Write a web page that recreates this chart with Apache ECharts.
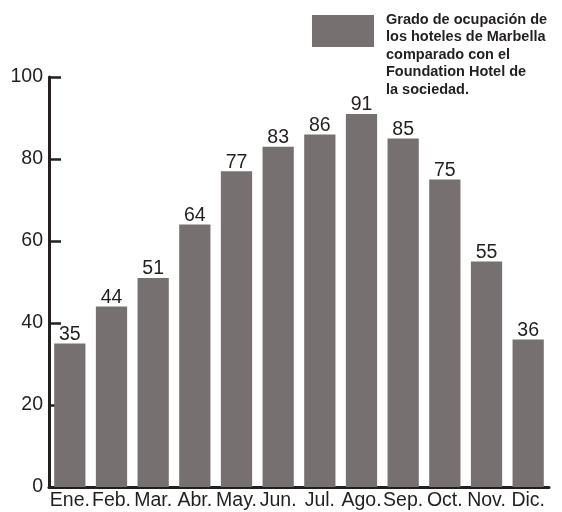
<!DOCTYPE html>
<html><head><meta charset="utf-8">
<script src="https://cdn.jsdelivr.net/npm/echarts@6/dist/echarts.min.js"></script>
<style>html,body{margin:0;padding:0;background:#fff}#c{width:562px;height:512px}</style>
</head><body><div id="c"></div>
<script>
var categories = ['Ene.','Feb.','Mar.','Abr.','May.','Jun.','Jul.','Ago.','Sep.','Oct.','Nov.','Dic.'];
var occupancy = [35,44,51,64,77,83,86,91,85,75,55,36];
var seriesName = 'Grado de ocupación de\nlos hoteles de Marbella\ncomparado con el\nFoundation Hotel de\nla sociedad.';

var chart = echarts.init(document.getElementById('c'));
var dark = '#231f20';
var font = 'Liberation Sans';
chart.setOption({
  animation: false,
  grid: {left: 49, right: 13, top: 77, bottom: 25},
  legend: {
    left: 312, top: 15, padding: 0,
    itemWidth: 62, itemHeight: 32, itemGap: 0,
    icon: 'rect',
    data: [seriesName],
    formatter: function () { return ''; },
    selectedMode: false
  },
  graphic: [{
    type: 'text', left: 386, top: 11,
    style: {text: seriesName, fontFamily: font, fontWeight: 'bold', fontSize: 14.5, lineHeight: 17.5, fill: dark}
  }],
  xAxis: {
    type: 'category', data: categories,
    axisLine: {lineStyle: {color: dark, width: 3}},
    axisTick: {inside: true, length: 9, lineStyle: {color: dark, width: 2.5}},
    axisLabel: {interval: 0, fontFamily: font, fontSize: 19.5, color: dark, margin: 4}
  },
  yAxis: {
    type: 'value', min: 0, max: 100, interval: 20,
    splitLine: {show: false},
    axisLine: {show: true, lineStyle: {color: dark, width: 3}},
    axisTick: {show: true, inside: true, length: 12, lineStyle: {color: dark, width: 2.5}},
    axisLabel: {fontFamily: font, fontSize: 19.5, color: dark, margin: 6}
  },
  series: [{
    name: seriesName, type: 'bar', data: occupancy,
    barWidth: '75%',
    itemStyle: {color: '#767070'},
    label: {show: true, position: 'top', distance: -1, fontFamily: font, fontSize: 19.5, color: dark}
  }]
});
</script></body></html>
